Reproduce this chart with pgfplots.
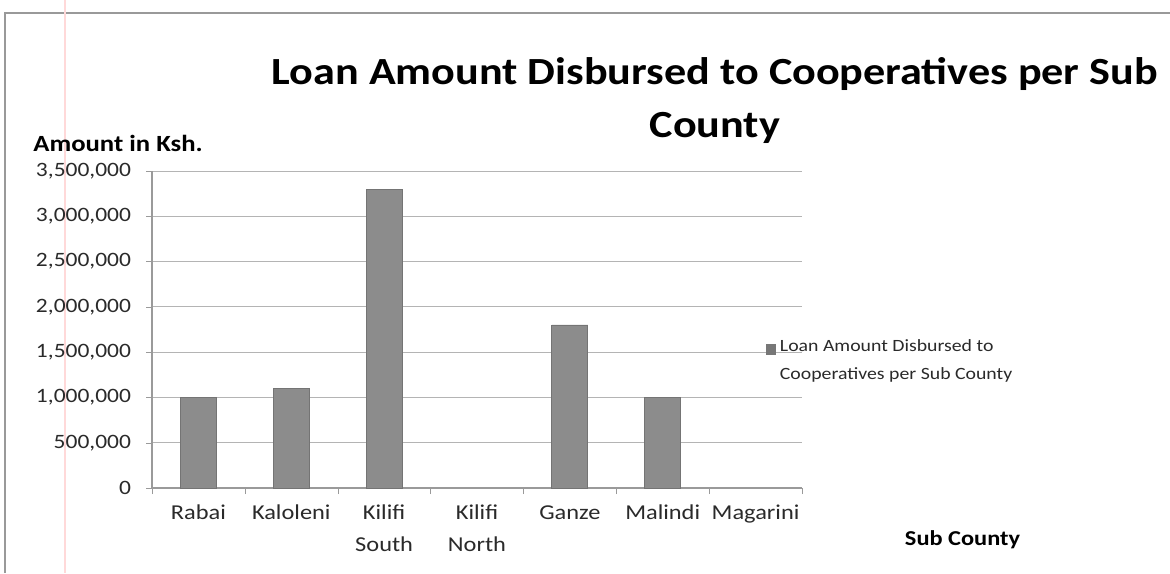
\documentclass[border=0pt]{standalone}
\usepackage{pgfplots}
\pgfplotsset{compat=1.18}
\usepackage{fontspec}
\setmainfont{Carlito}[FakeStretch=1.15]
\definecolor{barfill}{HTML}{8C8C8C}
\definecolor{baredge}{HTML}{747474}
\definecolor{gridc}{HTML}{B4B4B4}
\definecolor{axc}{HTML}{9A9A9A}
\definecolor{txt}{HTML}{2A2A2A}
\begin{document}
\begin{tikzpicture}
\useasboundingbox (0,0) rectangle (585pt,286.5pt);
\fill[white] (0,0) rectangle (585pt,286.5pt);
\draw[line width=1pt, color=gray!80] (2.5pt,0) -- (2.5pt,280pt) -- (590pt,280pt);
\draw[line width=0.6pt, color=red!15] (32.5pt,0) -- (32.5pt,290pt);
\begin{axis}[
  at={(76pt,42.5pt)}, anchor=south west,
  scale only axis, width=325pt, height=158.5pt,
  xmin=-0.5, xmax=6.5, ymin=0, ymax=3500000,
  xtick={0,...,6},
  xticklabels={\vphantom{Kl}Rabai, \vphantom{Kl}Kaloleni, {\vphantom{Kl}Kilifi\\South}, {\vphantom{Kl}Kilifi\\North}, \vphantom{Kl}Ganze, \vphantom{Kl}Malindi, \vphantom{Kl}Magarini},
  x tick label style={align=center, font=\fontsize{10.6}{16}\selectfont, text=txt, yshift=-2pt},
  major x tick style={draw=none},
  minor xtick={-0.5,0.5,...,6.5},
  minor x tick style={draw=axc},
  ytick={0,500000,...,3500000},
  scaled y ticks=false,
  y tick label style={font=\fontsize{10.2}{12}\selectfont, text=txt, xshift=-4pt},
  /pgf/number format/.cd, fixed, 1000 sep={,}, assume math mode=true,
  /pgfplots/.cd,
  tick align=outside, major tick length=3pt, minor tick length=3pt,
  ymajorgrids, grid style={draw=gridc, line width=0.5pt},
  axis x line*=bottom, axis y line*=left,
  axis line style={draw=axc, line width=0.6pt},
  y tick style={draw=axc},
  x axis line style={-}, y axis line style={-},
  title={Loan Amount Disbursed to Cooperatives per Sub\\County},
  title style={at={(axis description cs:0.866,1.186)}, anchor=center, align=center,
    font=\fontsize{19.2}{26.5}\selectfont\bfseries},
  ylabel={Amount in Ksh.},
  y label style={at={(axis description cs:-0.183,1.088)}, rotate=-90, anchor=west, inner sep=0pt,
    font=\fontsize{11.6}{14}\selectfont\bfseries},
  xlabel={Sub County},
  x label style={at={(axis description cs:1.247,-0.164)}, anchor=center,
    font=\fontsize{10.6}{12}\selectfont\bfseries},
  legend style={at={(axis description cs:0.935,0.40)}, anchor=west, draw=none, fill=none,
    font=\fontsize{8.6}{14}\selectfont, text=txt, cells={align=left}},
  legend image code/.code={\fill[barfill!85!black] (0pt,3.5pt) rectangle (4.5pt,8.5pt);},
]
\addplot[ybar, bar width=18pt, fill=barfill, draw=baredge, line width=0.4pt]
  coordinates {(0,1000000) (1,1100000) (2,3300000) (4,1800000) (5,1000000)};
\addlegendentry{Loan Amount Disbursed to\\Cooperatives per Sub County}
\end{axis}
\end{tikzpicture}
\end{document}
